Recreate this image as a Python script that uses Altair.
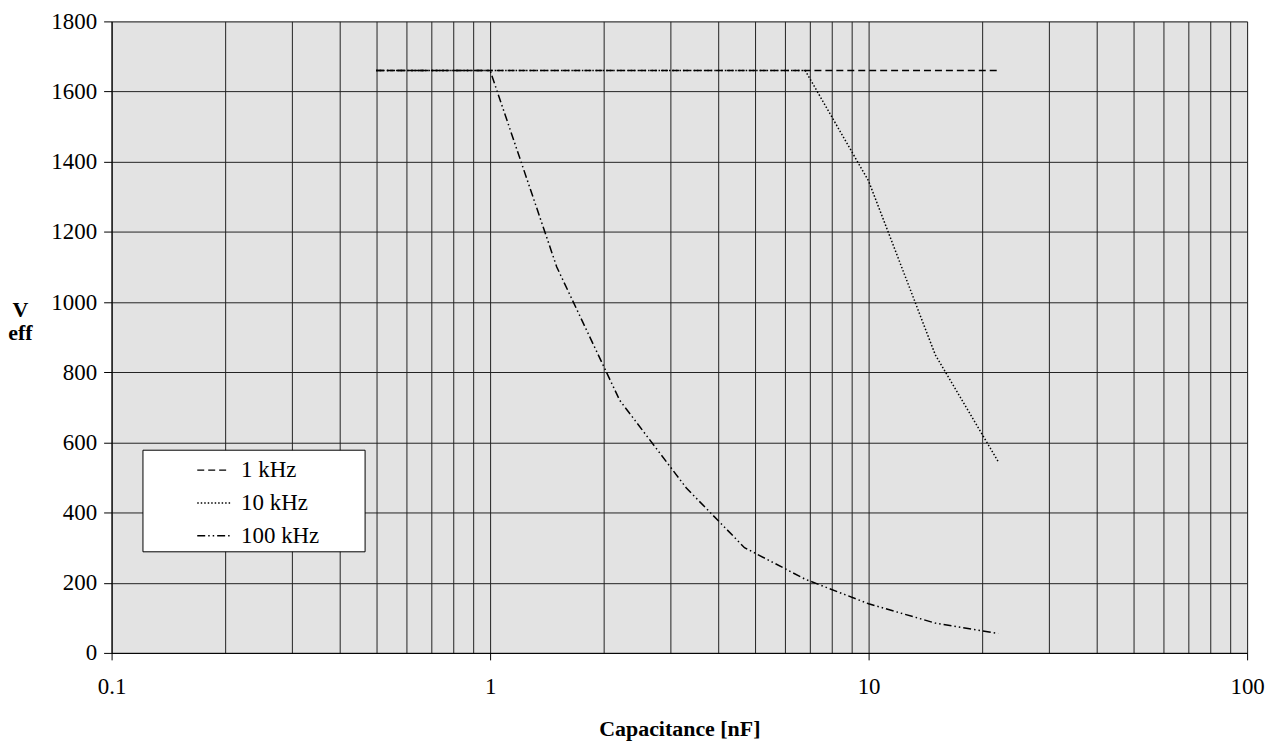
import altair as alt
import pandas as pd

# --- data ---
capacitance = [0.5, 1, 1.5, 2.2, 3.3, 4.7, 6.8, 10, 15, 22]
v_1khz = [1660, 1660, 1660, 1660, 1660, 1660, 1660, 1660, 1660, 1660]
v_10khz = [1660, 1660, 1660, 1660, 1660, 1660, 1660, 1345, 850, 545]
v_100khz = [1660, 1660, 1100, 720, 470, 300, 210, 140, 85, 55]
series_names = ["1 kHz", "10 kHz", "100 kHz"]

x_grid = [0.1, 0.2, 0.3, 0.4, 0.5, 0.6, 0.7, 0.8, 0.9,
          1, 2, 3, 4, 5, 6, 7, 8, 9,
          10, 20, 30, 40, 50, 60, 70, 80, 90, 100]
y_ticks = [0, 200, 400, 600, 800, 1000, 1200, 1400, 1600, 1800]

rows = []
for name, vals in zip(series_names, [v_1khz, v_10khz, v_100khz]):
    for c, v in zip(capacitance, vals):
        rows.append({"C": c, "V": v, "f": name})
df = pd.DataFrame(rows)

FONT = "Liberation Serif"
FS = 23
major_test = "indexof([0.1, 1, 10, 100], datum.value) >= 0"

chart = (
    alt.Chart(df)
    .mark_line(color="black", strokeWidth=1.5)
    .encode(
        x=alt.X(
            "C:Q",
            scale=alt.Scale(type="log", domain=[0.1, 100]),
            axis=alt.Axis(
                values=x_grid,
                format="~g",
                labelExpr=f"{major_test} ? datum.label : ''",
                labelFlush=False,
                tickOpacity={"condition": {"test": major_test, "value": 1}, "value": 0},
                tickSize=7,
                labelPadding=16,
                title="Capacitance [nF]",
                titleY=83,
                titleX=570,
                titleBaseline="alphabetic",
            ),
        ),
        y=alt.Y(
            "V:Q",
            scale=alt.Scale(domain=[0, 1800]),
            axis=alt.Axis(
                values=y_ticks,
                format="d",
                tickSize=8,
                labelPadding=7,
                title=["V", "eff"],
                titleAngle=0,
                titleAlign="center",
                titleBaseline="alphabetic",
                titleX=-92,
                titleY=296,
                titleLineHeight=23,
            ),
        ),
        strokeDash=alt.StrokeDash(
            "f:N",
            scale=alt.Scale(
                domain=series_names,
                range=[[7, 4], [1.5, 2], [8, 3, 1.5, 3, 1.5, 3]],
            ),
            sort=series_names,
            legend=alt.Legend(
                orient="none",
                legendX=31,
                legendY=430,
                title="\u00a0",
                titleOrient="right",
                titleFontSize=8,
                titlePadding=42,
                fillColor="white",
                strokeColor="black",
                padding=3,
                rowPadding=3,
                symbolOffset=51,
                symbolType="stroke",
                symbolSize=1089,
                symbolStrokeWidth=1.5,
                symbolStrokeColor="black",
                labelOffset=10,
                labelFont=FONT,
                labelFontSize=FS,
                labelColor="black",
                labelLimit=400,
            ),
        ),
    )
    .properties(
        width=1140,
        height=634,
        autosize=alt.AutoSizeParams(type="none"),
        padding={"left": 104, "top": 12, "right": 28, "bottom": 88},
    )
    .configure_view(fill="#e3e3e3", stroke="#c0c0c0", strokeWidth=1)
    .configure_axis(
        labelFont=FONT,
        labelFontSize=FS,
        labelColor="black",
        titleFont=FONT,
        titleFontSize=22,
        titleFontWeight="bold",
        titleColor="black",
        domainColor="black",
        domainWidth=1,
        tickColor="black",
        tickWidth=1,
        gridColor="#222222",
        gridWidth=1,
        gridOpacity=1,
    )
)

chart.save("out.html", embed_options={"renderer": "svg", "actions": False})
